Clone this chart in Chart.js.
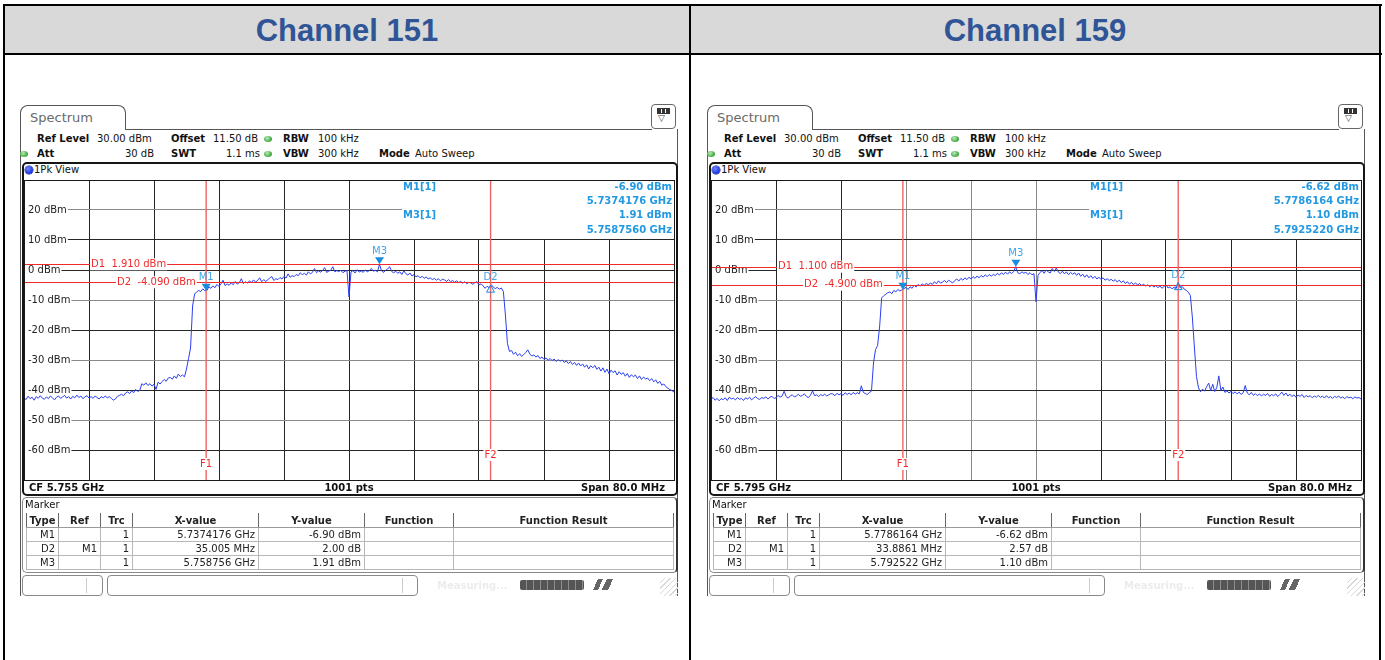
<!DOCTYPE html>
<html><head><meta charset="utf-8">
<script src="https://cdn.jsdelivr.net/npm/chart.js@4.4.1/dist/chart.umd.min.js"></script>
<style>
html,body{margin:0;padding:0;}
body{width:1385px;height:660px;background:#fff;position:relative;overflow:hidden;font-family:"DejaVu Sans",sans-serif;}
.a{position:absolute;}
.k{position:absolute;background:#000;}
.title{position:absolute;top:6px;height:47px;text-align:center;font:bold 31px "Liberation Sans",Arial,sans-serif;line-height:50px;color:#2f5597;}
.panel{position:absolute;top:0;left:0;width:690px;height:660px;}
.t{position:absolute;font-size:10px;line-height:12px;white-space:nowrap;color:#111;}
.b{font-weight:bold;}
.ln{position:absolute;background:#555;}
.tab{position:absolute;border:1px solid #555;border-bottom:none;border-radius:8px 8px 0 0;box-sizing:border-box;font-size:13px;color:#6a6a6a;padding-left:9px;line-height:24px;background:#fff;}
.gdot{position:absolute;width:8px;height:6px;border-radius:50%;background:radial-gradient(circle at 40% 35%,#b8ecb8,#3aa43a 70%);}
.frame{position:absolute;border:2px solid #151515;border-radius:5px;box-sizing:border-box;}
.mbox{position:absolute;border:1px solid #888;border-right:2px solid #333;border-radius:5px;box-sizing:border-box;}
table.mt{position:absolute;border-collapse:collapse;table-layout:fixed;font-size:10px;color:#222;}
table.mt th{height:14px;padding:0;font-weight:bold;text-align:center;border-left:1px solid #666;border-right:1px solid #666;border-bottom:1px solid #999;line-height:13px;}
table.mt td{height:13px;padding:0 3px 0 0;text-align:right;border:1px solid #b8b8b8;line-height:12px;}
.sb{position:absolute;border:1px solid #8a8a8a;border-radius:4px;box-sizing:border-box;background:#fff;}
.prog{position:absolute;background:repeating-linear-gradient(90deg,#555 0 6px,#8d8d8d 6px 7px);border-radius:2px;}
.grip{position:absolute;background:repeating-linear-gradient(135deg,transparent 0 3px,#d8d8d8 3px 4px);}
</style></head>
<body>
<div class="a" style="left:5px;top:6px;width:1374px;height:47px;background:#d9d9d9"></div>
<div class="k" style="left:3px;top:4px;width:1379px;height:2px"></div>
<div class="k" style="left:3px;top:53px;width:1379px;height:2px"></div>
<div class="k" style="left:3px;top:4px;width:2px;height:656px"></div>
<div class="k" style="left:689px;top:4px;width:2px;height:656px"></div>
<div class="k" style="left:1379px;top:4px;width:2px;height:656px"></div>
<div class="title" style="left:5px;width:684px">Channel 151</div>
<div class="title" style="left:691px;width:688px">Channel 159</div>
<div id="panels"></div>
<script>
// ---------------- data ----------------
const panelTitles = ['Channel 151', 'Channel 159'];
const centerFreqGHz = [5.755, 5.795];
const spanMHz = 80;
const sweepPoints = 1001;
const refLevelDbm = 30;
const yTickValues = [30, 20, 10, 0, -10, -20, -30, -40, -50, -60, -70];
const traceStepMHz = 0.25;   // spacing of the values, from the start frequency

// trace levels (dBm), one value every 0.25 MHz from the start frequency
const ch151Levels = [
-42.6,-43.2,-42.1,-42.9,-42.4,-43.4,-42.2,-42.8,-41.9,-42.7,-43.1,-42.3,-42.9,-42.0,-42.6,-43.3,-42.4,-42.0,-42.8,-42.3,
-41.8,-42.7,-42.2,-43.0,-42.1,-42.6,-41.7,-42.5,-42.0,-42.9,-42.3,-41.9,-42.7,-42.2,-42.8,-42.0,-42.5,-43.0,-42.2,-42.6,
-42.0,-42.6,-42.2,-42.8,-43.4,-43.0,-42.1,-41.8,-41.4,-41.9,-41.0,-40.6,-41.2,-40.3,-40.9,-39.8,-40.5,-40.1,-37.9,-38.4,
-37.6,-38.5,-37.9,-38.7,-38.1,-39.8,-37.4,-38.0,-37.2,-36.5,-37.1,-36.0,-35.8,-36.4,-35.3,-36.1,-34.7,-35.5,-35.0,-35.6,
-33.0,-29.5,-26.0,-12.0,-8.0,-7.3,-6.8,-7.2,-6.3,-6.9,-6.9,-5.6,-6.1,-5.3,-5.9,-4.8,-5.5,-4.6,-3.4,-5.2,
-4.6,-5.1,-4.3,-4.9,-3.8,-4.7,-4.2,-2.9,-4.5,-3.9,-4.4,-3.6,-4.2,-3.3,-4.0,-3.5,-2.6,-3.9,-3.2,-3.8,
-3.3,-2.6,-2.2,-3.5,-2.9,-3.2,-2.5,-3.0,-2.1,-2.7,-1.3,-2.4,-1.9,-2.2,-1.5,-1.9,-0.9,-1.6,-1.1,-1.7,
-0.6,-1.3,-0.8,0.5,-0.9,-0.3,-0.7,-0.2,0.8,-0.8,-0.4,-0.1,1.1,-0.6,-0.2,-0.5,-0.1,-0.9,-0.4,-0.2,
-9.0,-0.6,-0.2,-1.0,0.1,-0.7,-0.3,-0.8,0.0,-0.6,-0.2,0.5,-0.4,-0.1,-0.6,1.91,-0.3,-0.8,-0.1,0.3,
1.1,-0.5,-0.9,-0.4,-1.1,-0.6,-1.5,-0.3,-1.2,-1.7,-1.0,-2.0,-1.5,-2.3,-1.9,-2.6,-2.1,-2.8,-2.3,-3.0,
-2.6,-3.2,-2.8,-3.4,-2.9,-3.6,-3.1,-3.3,-3.8,-3.2,-3.9,-3.5,-4.1,-3.6,-4.2,-3.8,-4.4,-3.9,-4.6,-4.1,
-4.3,-4.8,-4.2,-3.9,-5.0,-4.6,-5.3,-6.1,-5.4,-5.9,-4.9,-5.7,-6.2,-5.8,-6.4,-6.0,-7.2,-15.0,-24.5,-27.2,
-26.8,-28.1,-27.4,-28.6,-27.9,-28.8,-28.2,-27.5,-26.6,-28.0,-28.7,-28.3,-29.0,-28.5,-29.5,-29.0,-29.8,-29.3,-30.1,-29.5,
-30.2,-29.7,-30.5,-29.9,-30.4,-30.0,-30.8,-30.3,-31.2,-30.5,-31.5,-30.8,-31.8,-31.0,-32.0,-31.3,-32.4,-31.6,-33.0,-31.9,
-32.6,-31.8,-33.1,-32.4,-33.7,-32.6,-34.1,-33.0,-34.6,-33.4,-34.2,-33.6,-35.0,-33.9,-34.8,-34.2,-35.4,-34.5,-35.8,-34.9,
-35.6,-35.0,-36.2,-35.3,-36.5,-35.7,-36.3,-36.0,-36.9,-36.2,-37.3,-36.6,-37.8,-37.1,-38.4,-38.0,-38.9,-39.4,-39.9,-40.2,
-40.7
];
const ch159Levels = [
-43.1,-42.5,-43.4,-42.8,-43.6,-42.9,-43.2,-42.6,-43.5,-42.4,-43.0,-42.7,-43.3,-42.5,-43.1,-42.8,-43.5,-42.6,-43.0,-42.4,
-43.3,-42.7,-42.2,-42.9,-43.1,-42.5,-42.8,-42.3,-43.0,-42.4,-42.1,-42.8,-42.6,-41.8,-42.4,-42.0,-40.4,-42.2,-42.7,-42.0,
-41.6,-42.3,-42.0,-41.4,-42.1,-41.8,-41.3,-42.2,-42.5,-41.7,-40.3,-41.9,-41.6,-42.2,-41.5,-41.9,-41.4,-42.0,-41.6,-41.2,
-41.3,-41.9,-41.1,-41.6,-41.2,-41.8,-40.9,-41.5,-41.0,-41.6,-40.8,-41.4,-40.9,-41.3,-38.6,-40.8,-41.2,-41.5,-40.8,-40.4,
-31.0,-26.5,-25.2,-19.0,-9.3,-8.6,-8.1,-7.6,-7.3,-7.9,-6.8,-7.3,-6.5,-7.0,-6.6,-6.2,-5.8,-6.5,-5.6,-6.1,
-5.0,-5.7,-4.8,-5.4,-4.6,-5.2,-4.4,-5.0,-4.3,-4.8,-3.9,-4.6,-3.6,-4.4,-4.0,-3.5,-4.2,-3.4,-3.9,-4.3,
-3.5,-3.0,-3.7,-2.8,-3.4,-2.6,-3.2,-2.4,-3.0,-2.2,-2.8,-2.0,-2.6,-1.8,-2.4,-1.6,-2.2,-1.5,-2.1,-1.4,
-1.9,-1.1,-1.7,-0.9,-1.5,-0.7,-1.4,-0.6,-1.2,-0.5,1.10,-0.9,-1.3,-0.6,-1.1,-0.7,-1.5,-0.9,-1.6,-1.2,
-10.6,-1.8,-0.8,-0.2,-1.1,0.0,-0.6,-1.0,0.5,-0.5,0.7,-0.7,-1.2,-0.4,-1.3,-0.6,-1.6,-0.8,-1.4,-0.9,
-1.8,-1.0,-2.1,-1.4,-2.4,-1.6,-2.6,-1.9,-2.8,-2.1,-3.0,-2.4,-3.2,-2.6,-3.4,-2.9,-3.5,-3.1,-3.7,-3.2,
-4.0,-3.4,-4.2,-3.6,-4.5,-3.9,-4.7,-4.1,-4.9,-4.3,-5.0,-4.5,-5.2,-4.7,-5.4,-4.9,-5.6,-5.0,-5.7,-5.2,
-5.9,-5.3,-6.1,-5.5,-4.9,-6.0,-5.6,-6.3,-5.7,-6.2,-4.05,-6.0,-5.5,-6.4,-6.8,-7.4,-8.5,-16.0,-26.0,-35.5,
-39.3,-40.6,-39.7,-40.4,-38.9,-37.7,-40.2,-38.1,-40.5,-39.2,-35.3,-40.1,-39.0,-40.8,-40.3,-41.0,-40.5,-41.2,-40.6,-41.3,
-40.7,-41.5,-40.9,-38.5,-41.0,-41.6,-40.8,-41.8,-41.2,-41.9,-41.3,-42.0,-41.4,-41.8,-41.2,-42.1,-41.5,-41.9,-41.3,-42.2,
-41.5,-40.7,-41.8,-41.0,-42.0,-41.4,-42.2,-41.6,-42.4,-41.7,-42.1,-41.5,-42.5,-41.8,-42.3,-41.9,-42.6,-42.0,-42.4,-41.8,
-42.5,-42.0,-42.7,-41.9,-42.6,-42.2,-42.8,-42.1,-42.5,-42.0,-42.7,-42.3,-42.9,-42.2,-42.6,-42.4,-42.9,-42.3,-42.7,-42.5,
-43.0
];

// markers: M1, D2, M3
const markerNames = ['M1', 'D2', 'M3'];
const ch151MarkerFreqGHz = [5.7374176, 5.7724226, 5.758756];
const ch151MarkerLevel = [-6.90, -4.90, 1.91];
const ch159MarkerFreqGHz = [5.7786164, 5.8125025, 5.792522];
const ch159MarkerLevel = [-6.62, -4.05, 1.10];
// display lines D1, D2 (dBm)
const ch151DisplayLines = [1.910, -4.090];
const ch159DisplayLines = [1.100, -4.900];
// marker table rows
const tableHeader = ['Type', 'Ref', 'Trc', 'X-value', 'Y-value', 'Function', 'Function Result'];
const ch151Table = [
  ['M1', '', '1', '5.7374176 GHz', '-6.90 dBm', '', ''],
  ['D2', 'M1', '1', '35.005 MHz', '2.00 dB', '', ''],
  ['M3', '', '1', '5.758756 GHz', '1.91 dBm', '', '']
];
const ch159Table = [
  ['M1', '', '1', '5.7786164 GHz', '-6.62 dBm', '', ''],
  ['D2', 'M1', '1', '33.8861 MHz', '2.57 dB', '', ''],
  ['M3', '', '1', '5.792522 GHz', '1.10 dBm', '', '']
];

const panelsCfg = [
  {ox: 0, cf: centerFreqGHz[0], levels: ch151Levels, mFreq: ch151MarkerFreqGHz, mLevel: ch151MarkerLevel, dLines: ch151DisplayLines, table: ch151Table, vGray: []},
  {ox: 687, cf: centerFreqGHz[1], levels: ch159Levels, mFreq: ch159MarkerFreqGHz, mLevel: ch159MarkerLevel, dLines: ch159DisplayLines, table: ch159Table, vGray: [3, 4, 5]}
];

// ---------------- layout ----------------
const colW = [32, 42, 32, 126, 106, 89, 220];
function panelHTML(c, idx) {
  let h = '';
  h += `<div class="tab" style="left:20px;top:105px;width:106px;height:25px">Spectrum</div>`;
  h += `<div class="ln" style="left:125px;top:129px;width:527px;height:1px"></div>`;
  h += `<div class="a" style="left:651px;top:104px;width:25px;height:25px;border:1px solid #666;border-radius:4px;box-sizing:border-box">
          <div class="a" style="left:5px;top:3px;width:13px;height:6px;background:repeating-linear-gradient(90deg,#333 0 3px,#fff 3px 4px);border:1px solid #333;box-sizing:border-box"></div>
          <div class="a" style="left:6px;top:8px;font-size:9px;line-height:10px;color:#444">▽</div></div>`;
  h += `<div class="ln" style="left:20px;top:129px;width:1px;height:467px"></div>`;
  h += `<div class="ln" style="left:677px;top:129px;width:1px;height:467px"></div>`;
  // parameter rows
  h += `<div class="t b" style="left:37px;top:133px">Ref Level</div>`;
  h += `<div class="t" style="left:97px;top:133px">${refLevelDbm.toFixed(2)} dBm</div>`;
  h += `<div class="t b" style="left:171px;top:133px">Offset</div>`;
  h += `<div class="t" style="left:213px;top:133px">11.50 dB</div>`;
  h += `<div class="gdot" style="left:264px;top:136px"></div>`;
  h += `<div class="t b" style="left:283px;top:133px">RBW</div>`;
  h += `<div class="t" style="left:318px;top:133px">100 kHz</div>`;
  h += `<div class="gdot" style="left:20px;top:151px"></div>`;
  h += `<div class="t b" style="left:37px;top:148px">Att</div>`;
  h += `<div class="t" style="left:104px;width:50px;text-align:right;top:148px">30 dB</div>`;
  h += `<div class="t b" style="left:171px;top:148px">SWT</div>`;
  h += `<div class="t" style="left:210px;width:50px;text-align:right;top:148px">1.1 ms</div>`;
  h += `<div class="gdot" style="left:264px;top:151px"></div>`;
  h += `<div class="t b" style="left:283px;top:148px">VBW</div>`;
  h += `<div class="t" style="left:318px;top:148px">300 kHz</div>`;
  h += `<div class="t b" style="left:379px;top:148px">Mode</div>`;
  h += `<div class="t" style="left:415px;top:148px">Auto Sweep</div>`;
  // plot frame
  h += `<div class="frame" style="left:22px;top:162px;width:656px;height:334px"></div>`;
  h += `<div class="a" style="left:25px;top:166px;width:8px;height:8px;border-radius:50%;background:radial-gradient(circle at 40% 35%,#6f86ff,#1631e0 70%);box-shadow:0 0 0 0.5px #0a1a80"></div>`;
  h += `<div class="t" style="left:34px;top:164px">1Pk View</div>`;
  h += `<canvas id="cv${idx}" class="a" style="left:20px;top:176px" width="658" height="308"></canvas>`;
  h += `<div class="t b" style="left:29px;top:482px">CF ${c.cf.toFixed(3)} GHz</div>`;
  h += `<div class="t b" style="left:299px;width:100px;text-align:center;top:482px">${sweepPoints} pts</div>`;
  h += `<div class="t b" style="left:565px;width:100px;text-align:right;top:482px">Span ${spanMHz.toFixed(1)} MHz</div>`;
  // marker table
  h += `<div class="mbox" style="left:22px;top:497px;width:656px;height:76px"></div>`;
  h += `<div class="t" style="left:25px;top:499px">Marker</div>`;
  let tb = `<table class="mt" style="left:26px;top:513px;width:${colW.reduce((s, v) => s + v, 0)}px"><colgroup>`;
  colW.forEach(w => tb += `<col style="width:${w}px">`);
  tb += '</colgroup><tr>';
  tableHeader.forEach(t => tb += `<th>${t}</th>`);
  tb += '</tr>';
  c.table.forEach(r => { tb += '<tr>'; r.forEach(v => tb += `<td>${v}</td>`); tb += '</tr>'; });
  tb += '</table>';
  h += tb;
  // status bar
  h += `<div class="sb" style="left:22px;top:575px;width:81px;height:21px"></div>`;
  h += `<div class="ln" style="left:86px;top:578px;width:1px;height:15px;background:#ccc"></div>`;
  h += `<div class="sb" style="left:107px;top:575px;width:311px;height:21px"></div>`;
  h += `<div class="ln" style="left:402px;top:578px;width:1px;height:15px;background:#ccc"></div>`;
  h += `<div class="t b" style="left:437px;top:580px;color:#ececec">Measuring...</div>`;
  h += `<div class="prog" style="left:520px;top:580px;width:64px;height:10px"></div>`;
  h += `<div class="a" style="left:593px;top:579px;width:20px;height:11px;background:linear-gradient(115deg,transparent 0 20%,#666 20% 40%,transparent 40% 55%,#666 55% 80%,transparent 80%)"></div>`;
  h += `<div class="grip" style="left:660px;top:578px;width:18px;height:18px"></div>`;
  return h;
}

const root = document.getElementById('panels');
panelsCfg.forEach((c, i) => {
  const d = document.createElement('div');
  d.className = 'panel';
  d.style.left = c.ox + 'px';
  d.innerHTML = panelHTML(c, i);
  root.appendChild(d);
});

// ---------------- chart ----------------
const overlay = {
  id: 'overlay',
  afterDraw(chart, args, o) {
    const {ctx, chartArea: a, scales: {x, y}} = chart;
    const startGHz = o.cf - spanMHz / 2000;
    const fx = g => x.getPixelForValue((g - startGHz) * 1000);
    const font = (w, s) => `${w} ${s}px "DejaVu Sans", sans-serif`;
    const line = (x1, y1, x2, y2) => { ctx.beginPath(); ctx.moveTo(x1, y1); ctx.lineTo(x2, y2); ctx.stroke(); };
    const label = (t, px, py, align, color, f, pad) => {
      ctx.font = f;
      const w = ctx.measureText(t).width;
      const lx = align === 'center' ? px - w / 2 : align === 'right' ? px - w : px;
      if (pad !== null) { ctx.fillStyle = '#fff'; ctx.fillRect(lx - pad, py - 6, w + 2 * pad, 12); }
      ctx.fillStyle = color; ctx.textBaseline = 'middle'; ctx.textAlign = 'left';
      ctx.fillText(t, lx, py);
    };
    ctx.save();
    // marker readout area (keeps the 10 dBm grid line visible)
    const bx = a.left + 378, by = Math.round(y.getPixelForValue(10));
    ctx.fillStyle = '#fff';
    ctx.fillRect(bx, a.top + 1, a.right - bx, by - a.top - 2);
    // frame
    ctx.strokeStyle = '#1a1a1a'; ctx.lineWidth = 1;
    ctx.strokeRect(a.left + 0.5, a.top + 0.5, a.right - a.left, a.bottom - a.top);
    // display lines
    const red = '#f02a2a';
    ctx.strokeStyle = red; ctx.lineWidth = 1;
    o.dLines.forEach(v => { const py = Math.round(y.getPixelForValue(v)) + 0.5; line(a.left + 1, py, a.right, py); });
    // frequency lines at M1 and D2
    ctx.strokeStyle = '#f26262'; ctx.lineWidth = 1.4;
    [o.mFreq[0], o.mFreq[1]].forEach(g => { const px = fx(g); line(px, a.top + 1, px, a.bottom); });
    const df = font('normal', 10);
    label('D1  ' + o.dLines[0].toFixed(3) + ' dBm', a.left + 67, y.getPixelForValue(o.dLines[0]), 'left', red, df, 1);
    label('D2  ' + o.dLines[1].toFixed(3) + ' dBm', a.left + 93, y.getPixelForValue(o.dLines[1]), 'left', red, df, 1);
    label('F1', fx(o.mFreq[0]), a.top + 284, 'center', red, df, 1);
    label('F2', fx(o.mFreq[1]), a.top + 275, 'center', red, df, 1);
    // markers
    const mc = '#1a8cdc', lc = '#3fa5e6';
    [0, 2].forEach(i => {
      const px = fx(o.mFreq[i]), py = y.getPixelForValue(o.mLevel[i]);
      ctx.fillStyle = mc; ctx.beginPath();
      ctx.moveTo(px - 4.5, py - 7); ctx.lineTo(px + 4.5, py - 7); ctx.lineTo(px, py); ctx.closePath(); ctx.fill();
      label(markerNames[i], px, py - 13, 'center', lc, df, null);
    });
    {
      const px = fx(o.mFreq[1]), py = y.getPixelForValue(o.mLevel[1]);
      ctx.strokeStyle = mc; ctx.lineWidth = 1; ctx.beginPath();
      ctx.moveTo(px, py + 0.5); ctx.lineTo(px + 4, py + 7.5); ctx.lineTo(px - 4, py + 7.5); ctx.closePath(); ctx.stroke();
      label(markerNames[1], px, py - 7, 'center', lc, df, null);
    }
    // readout text
    const inf = font('bold', 10), ic = '#2399e2';
    label('M1[1]', bx + 1, a.top + 7, 'left', ic, inf, null);
    label(o.mLevel[0].toFixed(2) + ' dBm', a.right - 2, a.top + 7, 'right', ic, inf, null);
    label(o.mFreq[0].toFixed(7) + ' GHz', a.right - 2, a.top + 21, 'right', ic, inf, null);
    label('M3[1]', bx + 1, a.top + 35.5, 'left', ic, inf, null);
    label(o.mLevel[2].toFixed(2) + ' dBm', a.right - 2, a.top + 35.5, 'right', ic, inf, null);
    label(o.mFreq[2].toFixed(7) + ' GHz', a.right - 2, a.top + 50, 'right', ic, inf, null);
    ctx.restore();
  }
};

const hGray = [20, -10, -30, -50];
panelsCfg.forEach((c, i) => {
  new Chart(document.getElementById('cv' + i), {
    type: 'line',
    data: {datasets: [{
      data: c.levels.map((v, k) => ({x: k * traceStepMHz, y: v})),
      borderColor: '#2a3ef2', borderWidth: 1, pointRadius: 0, tension: 0, fill: false
    }]},
    options: {
      responsive: false, animation: false, events: [],
      layout: {padding: 4},
      plugins: {legend: {display: false}, tooltip: {enabled: false}, overlay: c},
      scales: {
        x: {type: 'linear', min: 0, max: spanMHz, border: {display: false},
          afterFit: s => { s.height = 0; s.paddingLeft = 0; s.paddingRight = 0; s.paddingTop = 0; s.paddingBottom = 0; },
          ticks: {display: false, stepSize: spanMHz / 10},
          grid: {drawTicks: false, lineWidth: 1, color: g => c.vGray.includes(g.index) ? '#8a8a8a' : '#262626'}},
        y: {min: yTickValues[yTickValues.length - 1], max: yTickValues[0], border: {display: false},
          afterFit: s => { s.width = 0; s.paddingLeft = 0; s.paddingRight = 0; s.paddingTop = 0; s.paddingBottom = 0; },
          ticks: {stepSize: 10, mirror: true, padding: 4, color: '#222',
            font: {family: '"DejaVu Sans", sans-serif', size: 10},
            callback: v => (v > -70 && v < 30) ? v + ' dBm' : '',
            showLabelBackdrop: true,
            backdropColor: g => (g.tick && g.tick.value > -70 && g.tick.value < 30) ? '#fff' : 'rgba(0,0,0,0)',
            backdropPadding: {top: 1, bottom: 1, left: 3, right: 1}},
          grid: {drawTicks: false, lineWidth: 1, color: g => hGray.includes(g.tick.value) ? '#8a8a8a' : '#262626'}}
      }
    },
    plugins: [overlay]
  });
});
</script>
</body></html>
